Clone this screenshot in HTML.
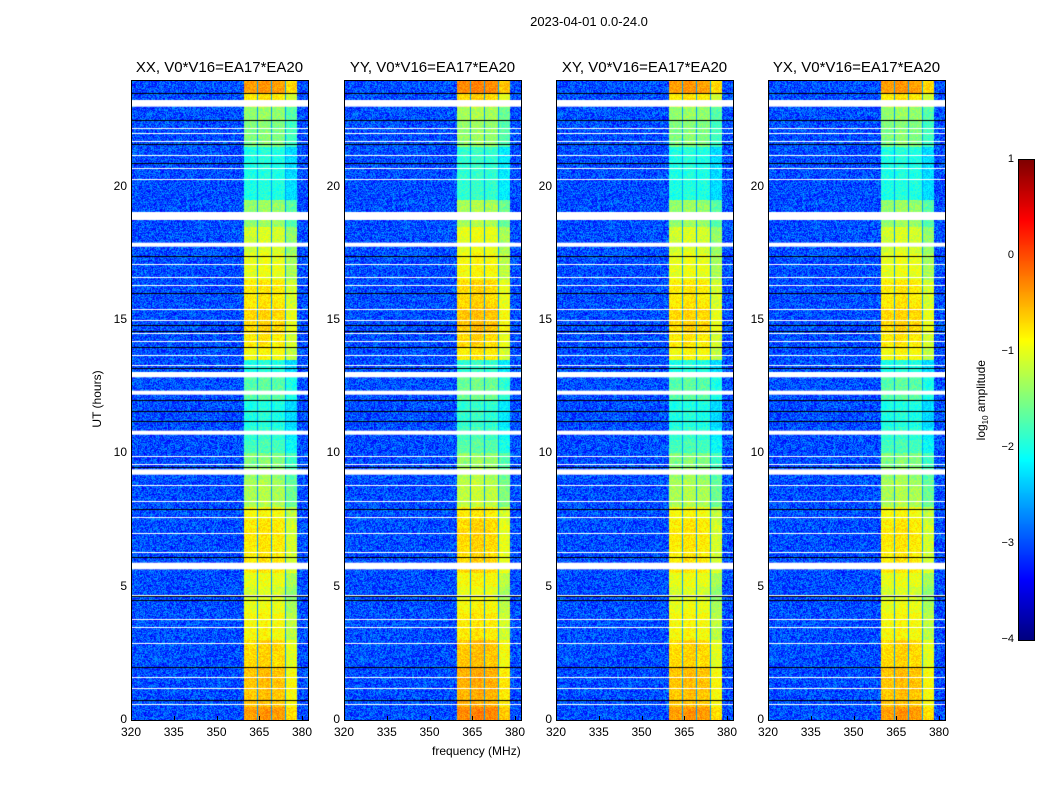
<!DOCTYPE html>
<html><head><meta charset="utf-8">
<style>
body{margin:0;background:#fff;width:1050px;height:800px;position:relative;overflow:hidden;font-family:"Liberation Sans",sans-serif;}
.t{position:absolute;white-space:nowrap;color:#000;}
canvas{position:absolute;}
.frame{position:absolute;border:1px solid #000;box-sizing:border-box;}
</style></head>
<body>
<div class="t" style="left:489px;top:14px;width:200px;text-align:center;font-size:13px">2023-04-01 0.0-24.0</div>
<div class="t" style="left:432px;top:744px;font-size:12px">frequency (MHz)</div>
<div class="t" style="left:62px;top:392px;font-size:12px;transform:rotate(-90deg);transform-origin:center;width:70px;text-align:center">UT (hours)</div>
<div id="root"></div>
<script>
// ---- data ----
const panelTitles = ["XX, V0*V16=EA17*EA20","YY, V0*V16=EA17*EA20","XY, V0*V16=EA17*EA20","YX, V0*V16=EA17*EA20"];
const panelOffsets = [0, 0.1, 0, 0];
// band log-amplitude per half hour (0h..24h)
const bandLevel = [-0.4,-0.6,-0.6,-0.6,-0.7,-0.7,-0.9,-0.9,-1.0,-1.1,-1.0,-0.8,-0.8,-0.8,-0.8,-0.9,-1.3,-1.3,-1.4,-1.5,-1.8,-1.9,-2.0,-2.0,-1.7,-1.7,-2.0,-0.9,-0.8,-0.7,-0.7,-0.8,-0.8,-1.0,-1.0,-1.1,-1.1,-1.4,-1.4,-2.0,-2.0,-2.0,-2.0,-1.5,-1.5,-1.4,-0.8,-0.4];
const backgroundLevel = -3.0;
const bandFreqs = [359.3, 363.9, 368.8, 373.7, 378.2];
const subBandOffset = [0, 0.05, 0, -0.3];
const whiteGaps = [[23.0,23.25],[18.75,19.05],[17.75,17.9],[12.85,13.05],[12.2,12.35],[10.7,10.85],[9.2,9.4],[5.65,5.9]];
const whiteLines = [0.6,1.2,1.6,2.9,3.5,3.8,4.7,6.3,7.0,7.6,8.2,8.8,9.6,9.9,13.3,13.7,14.2,14.5,15.0,15.4,16.3,16.6,17.1,20.3,20.7,21.2,21.7,22.0,22.2];
const blackLines = [0.75,2.0,4.5,4.65,6.1,7.9,9.5,11.2,11.6,12.0,13.2,14.0,14.6,14.8,16.0,17.4,20.9,21.6,22.5,23.5];
const xTicks = [320,335,350,365,380];
const yTicks = [0,5,10,15,20];
const cbTicks = [1,0,-1,-2,-3,-4];

const panelLefts=[131,344,556,768], PT=80, PW=177, PH=640;
const fMin=320,fMax=382.1,tMax=24;
const xs=f=>(f-fMin)/(fMax-fMin)*PW;
const ys=h=>PH*(1-h/tMax);
function jet(v){
  const c=x=>Math.max(0,Math.min(1,x));
  return [c(1.5-Math.abs(4*v-3)),c(1.5-Math.abs(4*v-2)),c(1.5-Math.abs(4*v-1))].map(a=>Math.round(a*255));
}
const norm=v=>(v+4)/5;
function hash(a,b){let h=(a*374761393+b*668265263)|0;h=(h^(h>>>13))*1274126177|0;return ((h^(h>>>16))>>>0)/4294967296;}
const root=document.getElementById('root');
panelLefts.forEach((L,p)=>{
  const cv=document.createElement('canvas');
  
  
  cv.width=PW;cv.height=PH;cv.style.left=L+'px';cv.style.top=PT+'px';
  root.appendChild(cv);
  const ctx=cv.getContext('2d');const img=ctx.createImageData(PW,PH);
  const bx=bandFreqs.map(xs);
  for(let y=0;y<PH;y++){
    const h=tMax*(1-(y+0.5)/PH);
    const row=Math.min(bandLevel.length-1,Math.floor(h*2));
    for(let x=0;x<PW;x++){
      let v=backgroundLevel+(hash(x+p*7,y)-0.5)*0.9;
      if(x>=bx[0]&&x<bx[4]){
        let k=0;while(k<3&&x>=bx[k+1])k++;
        v=bandLevel[row]+panelOffsets[p]+subBandOffset[k]+(hash(y,x+p)-0.5)*0.4;
        if(k>0&&Math.abs(x-bx[k])<1)v=-2.6;
      }
      const c=jet(Math.max(0,Math.min(1,norm(v))));
      const i=(y*PW+x)*4;img.data[i]=c[0];img.data[i+1]=c[1];img.data[i+2]=c[2];img.data[i+3]=255;
    }
  }
  ctx.putImageData(img,0,0);
  ctx.fillStyle='#fff';
  whiteGaps.forEach(g=>{ctx.fillRect(0,ys(g[1]),PW,ys(g[0])-ys(g[1]));});
  whiteLines.forEach(h=>ctx.fillRect(0,Math.round(ys(h)),PW,1));
  ctx.fillStyle='#000';
  blackLines.forEach(h=>ctx.fillRect(0,Math.round(ys(h)),PW,1));
  const fr=document.createElement('div');fr.className='frame';
  
  
  fr.style.cssText+=`left:${L}px;top:${PT}px;width:${PW+1}px;height:${PH+1}px`;
  root.appendChild(fr);
  const t=document.createElement('div');t.className='t';
  
  
  t.style.cssText+=`left:${L-30}px;width:${PW+60}px;text-align:center;top:59px;font-size:15px`;
  t.textContent=panelTitles[p];root.appendChild(t);
  xTicks.forEach(f=>{
    const d=document.createElement('div');d.className='t';
    
    
    d.style.cssText+=`left:${L+xs(f)-20}px;width:40px;text-align:center;top:725px;font-size:12px`;
    d.textContent=f;root.appendChild(d);
    const m=document.createElement('div');
    
    
    m.style.cssText=`position:absolute;left:${L+xs(f)}px;top:${PT+PH-4}px;width:1px;height:4px;background:#000`;
    root.appendChild(m);
  });
  yTicks.forEach(h=>{
    const d=document.createElement('div');d.className='t';
    
    
    d.style.cssText+=`left:${L-44}px;width:40px;text-align:right;top:${PT+ys(h)-8}px;font-size:12px`;
    d.textContent=h;root.appendChild(d);
  });
});
const cb=document.createElement('canvas');


cb.width=15;cb.height=480;cb.style.left='1019px';cb.style.top='160px';cb.style.outline='1px solid #000';
root.appendChild(cb);
const cctx=cb.getContext('2d');
for(let y=0;y<480;y++){const c=jet(1-y/479);cctx.fillStyle=`rgb(${c})`;cctx.fillRect(0,y,15,1);}
cbTicks.forEach(v=>{
  const d=document.createElement('div');d.className='t';
  
  
  d.style.cssText+=`left:984px;width:30px;text-align:right;top:${160+(1-v)/5*480-7}px;font-size:11px`;
  d.textContent=v<0?'\u2212'+(-v):v;root.appendChild(d);
});
</script>
<div class="t" style="left:922px;top:392px;width:120px;text-align:center;font-size:12px;transform:rotate(-90deg)">log<sub style="font-size:8px">10</sub> amplitude</div>
</body></html>
